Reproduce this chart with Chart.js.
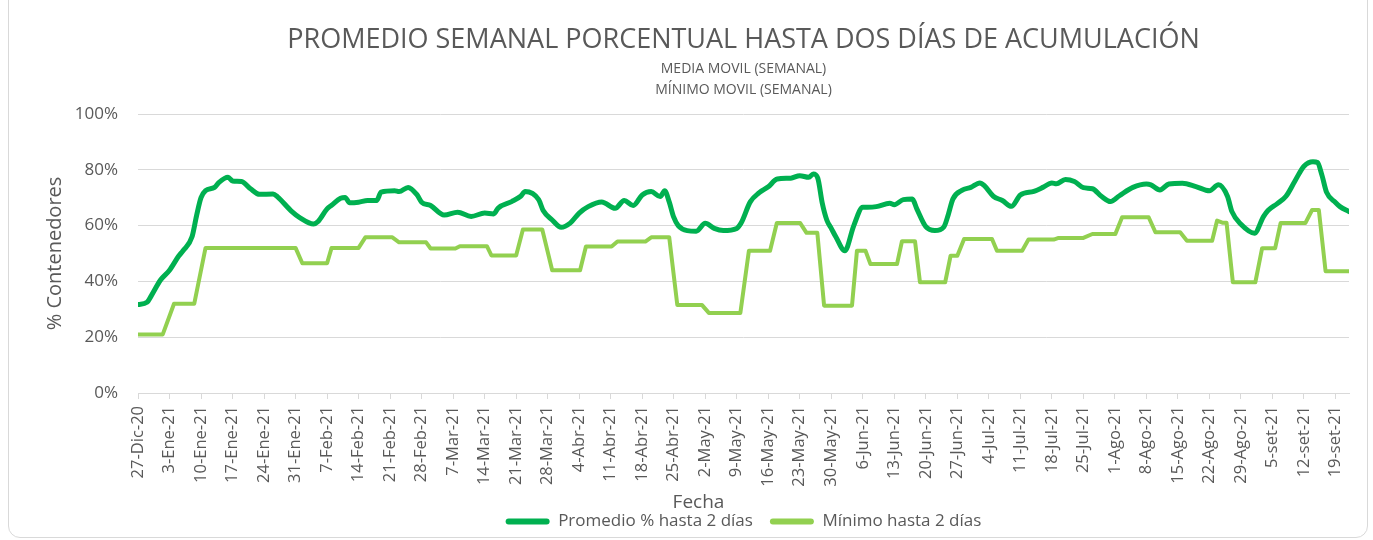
<!DOCTYPE html>
<html>
<head>
<meta charset="utf-8">
<script src="https://cdn.jsdelivr.net/npm/chart.js@4.4.1/dist/chart.umd.min.js"></script>
<style>
  html, body { margin: 0; padding: 0; background: #ffffff; }
  #wrap { position: relative; width: 1373px; height: 540px; overflow: hidden; background: #fff; }
  #frame { position: absolute; left: 8px; top: -12px; width: 1360px; height: 550px; border: 1px solid #d9d9d9; border-radius: 12px; box-sizing: border-box; }
  canvas { position: absolute; left: 0; top: 0; }
</style>
</head>
<body>
<div id="wrap">
  <div id="frame"></div>
  <canvas id="c" width="1373" height="540"></canvas>
</div>
<script>
const weekLabels = ['27-Dic-20','3-Ene-21','10-Ene-21','17-Ene-21','24-Ene-21','31-Ene-21','7-Feb-21','14-Feb-21','21-Feb-21','28-Feb-21','7-Mar-21','14-Mar-21','21-Mar-21','28-Mar-21','4-Abr-21','11-Abr-21','18-Abr-21','25-Abr-21','2-May-21','9-May-21','16-May-21','23-May-21','30-May-21','6-Jun-21','13-Jun-21','20-Jun-21','27-Jun-21','4-Jul-21','11-Jul-21','18-Jul-21','25-Jul-21','1-Ago-21','8-Ago-21','15-Ago-21','22-Ago-21','29-Ago-21','5-set-21','12-set-21','19-set-21'];

// day index counted from 27-Dic-20
const promDays = [0,2,3,5,7,9,10,12,13,14,15,17,18,20,21,23,25,27,30,31,34,36,39,40,42,43,45,46,47,49,51,53,54,57,58,60,62,63,65,68,71,74,77,79,80,83,85,86,89,90,92,94,96,98,100,103,106,108,110,112,114,116,117,118,119,120,122,124,126,128,130,133,134,136,138,140,142,145,147,149,150,151,152,153,154,155,157,159,161,162,164,167,168,170,172,173,175,177,179,180,181,183,185,187,188,190,192,194,196,199,201,203,204,206,208,210,212,214,216,218,221,224,225,227,229,232,235,238,240,242,243,245,248,250,251,253,255,257,259,261,262,263,264,266,267,269];
const promVals = [31.7,32.5,35,40.5,44,49,51,56,63.5,70,72.5,73.7,75.5,77.3,76,75.8,73.2,71.2,71.3,70.3,65.3,62.8,60.6,61.5,66,67.3,69.8,70.1,68.2,68.4,69,69,72,72.5,72.2,73.7,71,68.4,67.2,63.8,64.8,63.3,64.5,64.2,66.3,68.6,70.5,72.2,69.3,65.4,62,59.4,60.9,64.5,66.8,68.5,66.2,69,67.2,71,72.2,70.4,72.5,68.5,63,60,58.2,58,60.8,59,58.2,59,61,68.5,71.8,73.9,76.7,77,77.9,77.3,78.5,77,68,62,59,56,51,60,66.6,66.6,66.8,68,67.5,69.3,69.5,66,59.6,58.2,59.5,64,69.5,72.6,73.7,75.3,74.3,70.5,69,66.9,71,72.3,73.7,75.3,75,76.5,75.8,73.6,73.2,70.5,68.6,70.7,73.7,74.9,74.6,72.8,74.9,75.2,74,72.5,74.6,70.5,65,60.5,57.3,63.2,65.4,67.8,70.5,76,81.3,82.9,82.6,78,72,68.3,66.8,65];

const minDays = [0,5.5,8,12.5,15,35,36.5,42,43,49,50.5,56.5,58,64,65,70.5,71.5,77.5,78.5,84,85.5,89.8,92,98.2,99.5,105.2,106.5,112.7,114,118,119.8,125.3,126.8,133.8,135.7,140.4,141.9,147.1,148.5,150.9,152.4,158.6,159.7,161.6,162.7,168.6,169.7,172.6,173.7,179.3,180.5,182,183.5,189.7,190.8,196.4,197.8,203.4,204.5,210,212,217.1,218.6,224.5,226,231.5,233,238.6,239.7,241,241.8,243.2,248.2,249.7,252.6,253.8,259.3,260.8,262.3,263.8,269];
const minVals = [21,21,32,32,52,52,46.5,46.5,52,52,55.8,55.8,54,54,51.8,51.8,52.6,52.6,49.3,49.3,58.6,58.6,44,44,52.5,52.5,54.3,54.3,55.8,55.8,31.5,31.5,28.7,28.7,51,51,60.9,60.9,57.4,57.4,31.3,31.3,51,51,46.2,46.2,54.4,54.4,39.7,39.7,49.2,49.2,55.2,55.2,51,51,55,55,55.6,55.6,57,57,63,63,57.6,57.6,54.6,54.6,61.8,61,61,39.7,39.7,51.9,51.9,60.9,60.9,65.6,65.6,43.6,43.6];

const seriesNames = ['Promedio % hasta 2 días', 'Mínimo hasta 2 días'];
const yTicks = [0,20,40,60,80,100];
const xTitle = 'Fecha';

const TXT = '#595959';
const FONT = "'Open Sans', 'DejaVu Sans', sans-serif";

const promData = promDays.map((d, i) => ({x: d, y: promVals[i]}));
const minData = minDays.map((d, i) => ({x: d, y: minVals[i]}));

// x-axis title drawn slightly left of the plot centre, as in the original
const xTitlePlugin = {
  id: 'xTitlePlugin',
  afterDraw(chart) {
    const ctx = chart.ctx, a = chart.chartArea;
    ctx.save();
    ctx.font = "19px " + FONT;
    ctx.fillStyle = TXT;
    ctx.textAlign = 'center';
    ctx.textBaseline = 'middle';
    ctx.fillText(xTitle, (a.left + a.right) / 2 - 45, a.bottom + 110);
    ctx.restore();
  }
};

new Chart(document.getElementById('c'), {
  type: 'line',
  data: {
    datasets: [
      { label: seriesNames[0], data: promData, borderColor: '#00B050', backgroundColor: '#00B050',
        borderWidth: 5, pointRadius: 0, cubicInterpolationMode: 'monotone', borderJoinStyle: 'round', borderCapStyle: 'round' },
      { label: seriesNames[1], data: minData, borderColor: '#92D050', backgroundColor: '#92D050',
        borderWidth: 4, pointRadius: 0, tension: 0, borderJoinStyle: 'round', borderCapStyle: 'round' }
    ]
  },
  options: {
    responsive: false,
    animation: false,
    layout: { padding: { left: 10, right: 24, top: 16, bottom: 0 } },
    plugins: {
      tooltip: { enabled: false },
      title: {
        display: true, fullSize: false,
        text: 'PROMEDIO SEMANAL PORCENTUAL HASTA DOS DÍAS DE ACUMULACIÓN',
        color: TXT, font: { family: FONT, size: 27, weight: 'normal', lineHeight: 1.2 },
        padding: { top: 8, bottom: 2 }
      },
      subtitle: {
        display: true, fullSize: false,
        text: ['MEDIA MOVIL (SEMANAL)', 'MÍNIMO MOVIL (SEMANAL)'],
        color: TXT, font: { family: FONT, size: 14, weight: 'normal', lineHeight: 1.5 },
        padding: { top: 0, bottom: 13.6 }
      },
      legend: {
        position: 'bottom', fullSize: false,
        labels: {
          color: TXT, font: { family: FONT, size: 17 },
          boxWidth: 44, boxHeight: 6, padding: 17, useBorderRadius: true, borderRadius: 3,
          generateLabels: (chart) => Chart.defaults.plugins.legend.labels.generateLabels(chart).map(it => Object.assign(it, { lineWidth: 0 }))
        }
      }
    },
    scales: {
      x: {
        type: 'linear', min: 0, max: 269,
        afterBuildTicks: (s) => { s.ticks = weekLabels.map((l, i) => ({ value: i * 7 })); },
        afterFit: (s) => { s.height = 103; },
        ticks: {
          autoSkip: false, maxRotation: 90, minRotation: 90, padding: 7,
          color: TXT, font: { family: FONT, size: 16.5 },
          callback: (v) => weekLabels[Math.round(v / 7)]
        },
        grid: { drawOnChartArea: false, drawTicks: true, tickLength: 6, color: '#d9d9d9' },
        border: { display: true, color: '#d9d9d9', width: 1 },
        title: { display: false }
      },
      y: {
        min: 0, max: 100,
        afterBuildTicks: (s) => { s.ticks = yTicks.map(v => ({ value: v })); },
        afterFit: (s) => { s.width = 128; },
        ticks: { color: TXT, font: { family: FONT, size: 17 }, padding: 20, callback: (v) => v + '%' },
        grid: { color: '#d9d9d9', drawTicks: false, lineWidth: 1 },
        border: { display: false },
        title: { display: true, text: '% Contenedores', color: TXT, font: { family: FONT, size: 20, lineHeight: 1.2 }, padding: { top: 33, bottom: 0 } }
      }
    }
  },
  plugins: [xTitlePlugin]
});
</script>
</body>
</html>
